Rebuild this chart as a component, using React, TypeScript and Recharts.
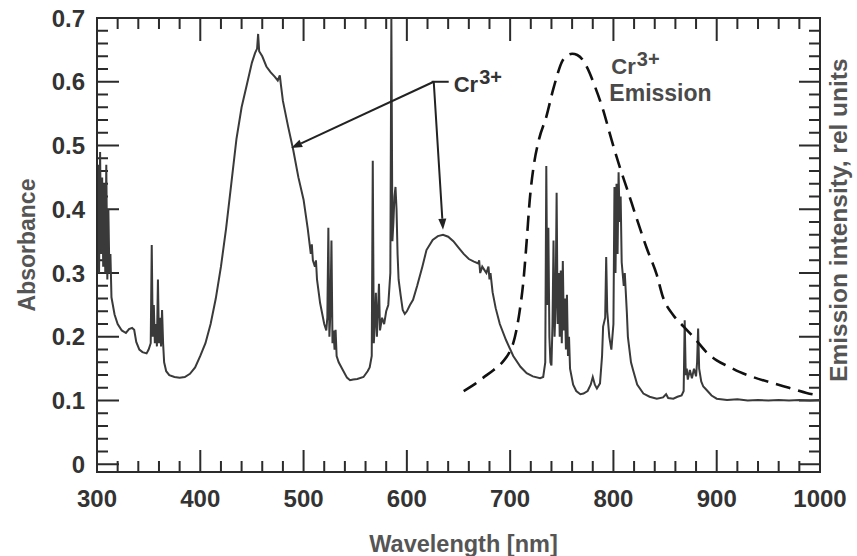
import React from 'react';
import { ComposedChart, Line, XAxis, YAxis, ReferenceLine, ReferenceDot } from 'recharts';

// ---------- data ----------
const absWavelength = [
  300, 301, 302, 303, 304, 305, 306, 307, 308, 309, 310, 311, 312, 313, 314, 317, 320, 324, 328, 331,
  334, 336, 338, 341, 344, 348, 350, 352, 353, 354, 355, 356, 357, 358, 359, 360, 361, 362, 363, 364,
  365, 367, 370, 375, 380, 385, 390, 395, 400, 405, 410, 415, 420, 425, 430, 435, 440, 445, 450, 453,
  455, 456, 457, 460, 464, 468, 472, 475, 477, 478, 480, 485, 490, 495, 500, 504, 507, 508, 509, 511,
  512, 513, 516, 520, 522, 523, 524, 525, 526, 527, 528, 529, 530, 531, 532, 534, 538, 542, 545, 548,
  552, 558, 562, 564, 566, 567, 568, 569, 570, 571, 572, 573, 574, 576, 578, 580, 582, 584, 585, 586,
  587, 588, 589, 590, 591, 592, 594, 596, 598, 600, 603, 606, 610, 615, 619, 625, 630, 635, 640, 645,
  650, 655, 660, 665, 669, 670, 671, 673, 675, 677, 679, 680, 681, 683, 686, 690, 696, 703, 710, 716,
  722, 729, 732, 734, 735, 736, 737, 738, 739, 740, 741, 742, 743, 744, 745, 746, 747, 748, 749, 750,
  751, 752, 753, 754, 755, 756, 757, 758, 761, 764, 768, 771, 775, 778, 780, 782, 784, 787, 789, 790,
  792, 793, 794, 796, 798, 800, 801, 802, 803, 804, 805, 806, 807, 808, 810, 811, 813, 814, 817, 819,
  823, 829, 835, 842, 848, 851, 853, 858, 862, 866, 868, 869, 870, 871, 872, 874, 876, 878, 880, 881,
  882, 883, 885, 887, 890, 895, 900, 910, 920, 930, 940, 950, 960, 970, 980, 990, 1000,
];
const absValue = [
  0.40, 0.47, 0.30, 0.49, 0.33, 0.45, 0.31, 0.44, 0.30, 0.47, 0.29, 0.40, 0.30, 0.33, 0.262, 0.235, 0.22, 0.21, 0.206, 0.212,
  0.214, 0.211, 0.192, 0.18, 0.176, 0.174, 0.18, 0.19, 0.344, 0.2, 0.25, 0.19, 0.22, 0.185, 0.29, 0.19, 0.23, 0.185, 0.242, 0.19,
  0.16, 0.146, 0.14, 0.137, 0.136, 0.137, 0.142, 0.152, 0.17, 0.19, 0.22, 0.26, 0.31, 0.37, 0.44, 0.51, 0.56, 0.595, 0.63, 0.645,
  0.652, 0.675, 0.648, 0.64, 0.624, 0.615, 0.608, 0.602, 0.61, 0.596, 0.57, 0.53, 0.493, 0.45, 0.415, 0.37, 0.33, 0.345, 0.32, 0.31,
  0.32, 0.29, 0.253, 0.22, 0.21, 0.23, 0.371, 0.2, 0.24, 0.351, 0.19, 0.21, 0.18, 0.211, 0.17, 0.16, 0.148, 0.136, 0.132, 0.133,
  0.134, 0.137, 0.146, 0.152, 0.17, 0.476, 0.19, 0.22, 0.269, 0.2, 0.24, 0.283, 0.21, 0.23, 0.22, 0.24, 0.25, 0.3, 0.7, 0.35,
  0.38, 0.42, 0.435, 0.4, 0.33, 0.29, 0.265, 0.242, 0.236, 0.24, 0.25, 0.258, 0.28, 0.31, 0.336, 0.352, 0.358, 0.36, 0.357, 0.35,
  0.34, 0.33, 0.322, 0.318, 0.315, 0.32, 0.3, 0.31, 0.305, 0.3, 0.31, 0.29, 0.3, 0.27, 0.245, 0.22, 0.195, 0.17, 0.153, 0.143,
  0.138, 0.135, 0.137, 0.16, 0.468, 0.25, 0.371, 0.2, 0.16, 0.155, 0.22, 0.351, 0.2, 0.25, 0.426, 0.22, 0.3, 0.2, 0.304, 0.19,
  0.319, 0.21, 0.26, 0.18, 0.266, 0.17, 0.2, 0.15, 0.125, 0.115, 0.11, 0.111, 0.115, 0.125, 0.137, 0.125, 0.119, 0.127, 0.17, 0.216,
  0.23, 0.325, 0.24, 0.2, 0.18, 0.22, 0.435, 0.3, 0.44, 0.33, 0.458, 0.38, 0.42, 0.317, 0.28, 0.3, 0.238, 0.2, 0.16, 0.148,
  0.125, 0.111, 0.106, 0.103, 0.105, 0.11, 0.104, 0.103, 0.106, 0.108, 0.115, 0.226, 0.14, 0.15, 0.133, 0.148, 0.135, 0.15, 0.138, 0.16,
  0.213, 0.15, 0.13, 0.122, 0.117, 0.108, 0.103, 0.101, 0.102, 0.1, 0.101, 0.1, 0.101, 0.1, 0.101, 0.1, 0.101,
];

const emWavelength = [
  655, 665, 674, 684, 693, 700, 703, 706, 709, 713, 716, 719, 723, 728, 735, 742, 751, 756, 760, 765,
  770, 774, 782, 790, 798, 806, 814, 822, 832, 842, 848, 858, 868, 880, 890, 900, 912, 922, 935, 955,
  970, 987, 1000,
];
const emValue = [
  0.115, 0.125, 0.136, 0.148, 0.161, 0.178, 0.19, 0.21, 0.238, 0.29, 0.35, 0.415, 0.47, 0.51, 0.545, 0.59, 0.634, 0.642, 0.644, 0.642,
  0.635, 0.624, 0.593, 0.556, 0.51, 0.467, 0.428, 0.388, 0.34, 0.297, 0.262, 0.234, 0.216, 0.195, 0.176, 0.163, 0.153, 0.145, 0.137, 0.127,
  0.12, 0.112, 0.108,
];

const xMajorTicks = [300, 400, 500, 600, 700, 800, 900, 1000];
const yMajorTicks = [0, 0.1, 0.2, 0.3, 0.4, 0.5, 0.6, 0.7];
const xDomain = [300, 1000];
const yDomain = [-0.012, 0.7];

// annotation anchors (data coordinates)
const crArrowOrigin = { nm: 626, a: 0.6 };
const crArrowTargets = [
  { nm: 488, a: 0.496 },
  { nm: 635, a: 0.368 },
];
const emissionLabelAt = { nm: 798, a: 0.612 };
const rightTitleAt = { nm: 1000, a: 0.383 };

// ---------- derived tables ----------
const absData = absWavelength.map((nm, i) => ({ nm, a: absValue[i] }));
const emData = emWavelength.map((nm, i) => ({ nm, e: emValue[i] }));

const xMinorTicks: number[] = [];
for (let v = 320; v < 1000; v += 20) if (!xMajorTicks.includes(v)) xMinorTicks.push(v);
const yMinorTicks: number[] = [];
for (let k = 1; k < 35; k++) if (k % 5 !== 0) yMinorTicks.push(Math.round(k * 2) / 100);

// frame (top/right edges) and inward tick marks as a broken line series; lengths ~21px / ~10px
const PX_PER_NM = 723 / (xDomain[1] - xDomain[0]);
const PX_PER_UNIT = 454 / (yDomain[1] - yDomain[0]);
const yLen = (px: number) => px / PX_PER_UNIT;
const xLen = (px: number) => px / PX_PER_NM;
const frameTicks: { nm: number; t: number | null }[] = [];
const pushSeg = (x1: number, y1: number, x2: number, y2: number) => {
  frameTicks.push({ nm: x1, t: y1 }, { nm: x2, t: y2 }, { nm: x2, t: null });
};
pushSeg(xDomain[0], yDomain[1], xDomain[1], yDomain[1]);
pushSeg(xDomain[1], yDomain[1], xDomain[1], yDomain[0]);
xMajorTicks.forEach((v) => {
  pushSeg(v, yDomain[0], v, yDomain[0] + yLen(21));
  pushSeg(v, yDomain[1], v, yDomain[1] - yLen(22));
});
xMinorTicks.forEach((v) => {
  pushSeg(v, yDomain[0], v, yDomain[0] + yLen(10));
  pushSeg(v, yDomain[1], v, yDomain[1] - yLen(10));
});
yMajorTicks.forEach((v) => {
  pushSeg(xDomain[0], v, xDomain[0] + xLen(21), v);
  pushSeg(xDomain[1], v, xDomain[1] - xLen(20), v);
});
yMinorTicks.forEach((v) => {
  pushSeg(xDomain[0], v, xDomain[0] + xLen(10), v);
  pushSeg(xDomain[1], v, xDomain[1] - xLen(10), v);
});

const FONT = "'Liberation Sans', Arial, Helvetica, sans-serif";

const BottomLabel = (props: any) => {
  const { x, y, payload } = props;
  return (
    <text x={x} y={y + 35} textAnchor="middle" fontFamily={FONT} fontWeight="bold" fontSize={24} fill="#333">
      {payload.value}
    </text>
  );
};

const LeftLabel = (props: any) => {
  const { x, y, payload } = props;
  const v = payload.value;
  return (
    <text x={x - 12} y={y} dy="0.36em" textAnchor="end" fontFamily={FONT} fontWeight="bold" fontSize={24} fill="#333">
      {v === 0 ? '0' : v.toFixed(1)}
    </text>
  );
};

const ArrowLine = (props: any) => {
  const { x1, y1, x2, y2 } = props;
  const ang = Math.atan2(y2 - y1, x2 - x1);
  const L = 11;
  const W = 4;
  const bx = x2 - L * Math.cos(ang);
  const by = y2 - L * Math.sin(ang);
  const px = -Math.sin(ang) * W;
  const py = Math.cos(ang) * W;
  return (
    <g>
      <line x1={x1} y1={y1} x2={bx} y2={by} stroke="#222" strokeWidth={2} />
      <polygon points={`${x2},${y2} ${bx + px},${by + py} ${bx - px},${by - py}`} fill="#222" />
    </g>
  );
};

const CrLabel = (props: any) => {
  const { cx, cy } = props;
  return (
    <g>
      <line x1={cx - 2} x2={cx + 15} y1={cy} y2={cy} stroke="#222" strokeWidth={2} />
      <text x={cx + 20} y={cy + 10} fontFamily={FONT} fontSize={22} fontWeight="bold" fill="#333">
        Cr
        <tspan dx={1} dy={-8} fontSize={20}>
          3+
        </tspan>
      </text>
    </g>
  );
};

const EmissionLabel = (props: any) => {
  const { cx, cy } = props;
  return (
    <g fontFamily={FONT} fill="#4a4a4a" fontWeight="bold">
      <text x={cx} y={cy} fontSize={22}>
        Cr
        <tspan dx={1} dy={-8} fontSize={20}>
          3+
        </tspan>
      </text>
      <text x={cx - 2} y={cy + 27} fontSize={23}>
        Emission
      </text>
    </g>
  );
};

const RightTitle = (props: any) => {
  const { cx, cy } = props;
  const x = cx + 27;
  return (
    <text
      x={x}
      y={cy}
      transform={`rotate(-90 ${x} ${cy})`}
      textAnchor="middle"
      fontFamily={FONT}
      fontWeight="bold"
      fontSize={24.5}
      fill="#555"
    >
      Emission intensity, rel units
    </text>
  );
};

const titleStyle = { fontFamily: FONT, fontWeight: 'bold' as const, fill: '#555' };

export default function App() {
  return (
    <div style={{ position: 'absolute', left: 0, top: 0, width: 857, height: 556, background: '#fff' }}>
      <ComposedChart width={857} height={556} margin={{ top: 18, right: 37, bottom: 0, left: 0 }}>
        <XAxis
          xAxisId="b"
          type="number"
          dataKey="nm"
          domain={xDomain}
          ticks={xMajorTicks}
          interval={0}
          height={84}
          tickSize={0}
          tickMargin={0}
          tickLine={false}
          axisLine={{ stroke: '#2b2b2b', strokeWidth: 2 }}
          tick={(p: any) => <BottomLabel {...p} />}
          label={{
            content: (p: any) => {
              const vb = p.viewBox || { x: 97, y: 472, width: 723 };
              return (
                <text x={vb.x + vb.width / 2 + 5} y={vb.y + 80} textAnchor="middle" fontSize={23.5} {...titleStyle}>
                  Wavelength [nm]
                </text>
              );
            },
          }}
        />
        <YAxis
          yAxisId="l"
          type="number"
          domain={yDomain}
          ticks={yMajorTicks}
          interval={0}
          width={97}
          tickSize={0}
          tickMargin={0}
          tickLine={false}
          axisLine={{ stroke: '#2b2b2b', strokeWidth: 2 }}
          tick={(p: any) => <LeftLabel {...p} />}
          label={{
            content: (p: any) => {
              const vb = p.viewBox || { x: 0, y: 18, width: 97, height: 454 };
              const cx = vb.x + 35;
              const cy = vb.y + vb.height / 2;
              return (
                <text x={cx} y={cy} transform={`rotate(-90 ${cx} ${cy})`} textAnchor="middle" fontSize={23} {...titleStyle}>
                  Absorbance
                </text>
              );
            },
          }}
        />

        <Line
          xAxisId="b"
          yAxisId="l"
          data={frameTicks}
          dataKey="t"
          type="linear"
          stroke="#2b2b2b"
          strokeWidth={2}
          strokeLinecap="square"
          dot={false}
          activeDot={false}
          isAnimationActive={false}
        />
        <Line
          xAxisId="b"
          yAxisId="l"
          data={absData}
          dataKey="a"
          type="linear"
          stroke="#3a3a3a"
          strokeWidth={2}
          dot={false}
          activeDot={false}
          isAnimationActive={false}
        />
        <Line
          xAxisId="b"
          yAxisId="l"
          data={emData}
          dataKey="e"
          type="monotone"
          stroke="#111"
          strokeWidth={2.6}
          strokeDasharray="15 8"
          dot={false}
          activeDot={false}
          isAnimationActive={false}
        />
        {crArrowTargets.map((t, i) => (
          <ReferenceLine
            key={`arr${i}`}
            xAxisId="b"
            yAxisId="l"
            segment={[
              { x: crArrowOrigin.nm, y: crArrowOrigin.a },
              { x: t.nm, y: t.a },
            ]}
            ifOverflow="visible"
            shape={(p: any) => <ArrowLine {...p} />}
          />
        ))}
        <ReferenceDot
          xAxisId="b"
          yAxisId="l"
          x={crArrowOrigin.nm}
          y={crArrowOrigin.a}
          r={0}
          ifOverflow="visible"
          shape={(p: any) => <CrLabel {...p} />}
        />
        <ReferenceDot
          xAxisId="b"
          yAxisId="l"
          x={emissionLabelAt.nm}
          y={emissionLabelAt.a}
          r={0}
          ifOverflow="visible"
          shape={(p: any) => <EmissionLabel {...p} />}
        />
        <ReferenceDot
          xAxisId="b"
          yAxisId="l"
          x={rightTitleAt.nm}
          y={rightTitleAt.a}
          r={0}
          ifOverflow="visible"
          shape={(p: any) => <RightTitle {...p} />}
        />
      </ComposedChart>
    </div>
  );
}
